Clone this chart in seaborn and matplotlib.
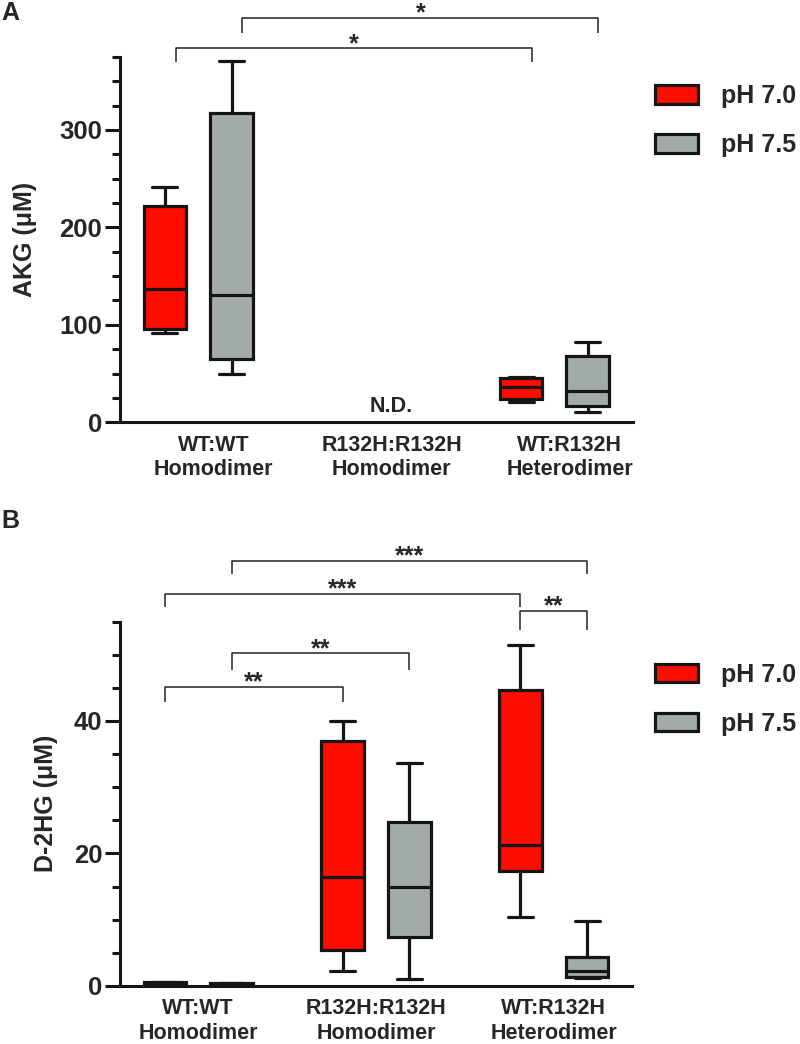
import pandas as pd
import seaborn as sns
import matplotlib.pyplot as plt
from matplotlib.patches import Patch
from matplotlib.ticker import MultipleLocator

# categories and hue levels
dimers = ["WT:WT\nHomodimer", "R132H:R132H\nHomodimer", "WT:R132H\nHeterodimer"]
ph_levels = ["pH 7.0", "pH 7.5"]
colors = ["#ff0d00", "#a2abaa"]

# five-number summaries (min, q1, median, q3, max)
akg_wt_70 = [92, 95.5, 137, 222, 241]
akg_wt_75 = [49.5, 64.5, 131, 317, 371]
akg_het_70 = [21, 23.5, 36, 45.5, 46]
akg_het_75 = [11, 17, 32.5, 68, 82.5]

hg_wt_70 = [0.1, 0.25, 0.4, 0.55, 0.65]
hg_wt_75 = [0.1, 0.2, 0.3, 0.45, 0.5]
hg_mut_70 = [2.3, 5.4, 16.5, 37.0, 40.0]
hg_mut_75 = [1.05, 7.4, 15.0, 24.8, 33.7]
hg_het_70 = [10.4, 17.3, 21.3, 44.7, 51.4]
hg_het_75 = [1.15, 1.4, 2.2, 4.4, 9.85]

# significance brackets: (group1, hue1, group2, hue2, y, leg, label)
akg_sig = [(0, 0, 2, 0, 384, 14.5, "*"),
           (0, 1, 2, 1, 415, 15, "*")]
hg_sig = [(0, 0, 1, 0, 45.2, 2.4, "**"),
          (0, 1, 1, 1, 50.2, 2.5, "**"),
          (0, 0, 2, 0, 59.2, 2.0, "***"),
          (0, 1, 2, 1, 64.2, 2.0, "***"),
          (2, 0, 2, 1, 56.6, 2.8, "**")]

WIDTH = 0.75
EDGE = "#151515"
LW = 2.3


def to_long(rows):
    recs = []
    for dimer, ph, vals in rows:
        for v in vals:
            recs.append({"Dimer": dimer, "pH": ph, "Value": v})
    return pd.DataFrame(recs)


def pos(g, h, shift=0.0):
    return g + (h - 0.5) * WIDTH / 2 + shift


def draw_panel(ax, df, ylabel, label_x, sig, ymax, major, minor, shift, legend_y):
    sns.boxplot(data=df, x="Dimer", y="Value", hue="pH", order=dimers,
                hue_order=ph_levels, palette=colors, saturation=1,
                width=WIDTH, gap=0.36, whis=(0, 100), linewidth=LW,
                linecolor=EDGE, dodge=True, legend=False, ax=ax)
    # widen whisker caps a bit
    for ln in ax.lines:
        x = ln.get_xdata()
        y = ln.get_ydata()
        if len(x) == 2 and y[0] == y[1] and abs(x[1] - x[0]) < 0.2:
            c = (x[0] + x[1]) / 2
            ln.set_xdata([c - 0.07, c + 0.07])
    for g1, h1, g2, h2, y, leg, lab in sig:
        x1 = pos(g1, h1, shift * 0.7)
        x2 = pos(g2, h2, shift * 0.7)
        ax.plot([x1, x1, x2, x2], [y - leg, y, y, y - leg], color="#222222",
                lw=1.1, clip_on=False, solid_capstyle="butt")
        ax.annotate(lab, xy=((x1 + x2) / 2, y), xytext=(0, -2),
                    textcoords="offset points", ha="center", va="baseline",
                    fontsize=18, fontweight="bold", annotation_clip=False)
    ax.set_xlim(-0.44, 2.44)
    ax.set_ylim(0, ymax)
    ax.yaxis.set_major_locator(MultipleLocator(major))
    ax.yaxis.set_minor_locator(MultipleLocator(minor))
    ax.set_xticks([i + shift for i in range(3)], dimers)
    ax.tick_params(axis="y", which="major", length=10.8, width=2.2,
                   labelsize=18.5, pad=2, color=EDGE)
    ax.tick_params(axis="y", which="minor", length=5.8, width=2.2, color=EDGE)
    ax.tick_params(axis="x", length=0, pad=9, labelsize=15.5)
    ax.set_xlabel("")
    ax.set_ylabel(ylabel, fontsize=18)
    ax.yaxis.set_label_coords(label_x, 0.5)
    sns.despine(ax=ax)
    for s in ["left", "bottom"]:
        ax.spines[s].set_linewidth(2.2)
        ax.spines[s].set_color(EDGE)
    handles = [Patch(facecolor=c, edgecolor=EDGE, linewidth=LW, label=l)
               for c, l in zip(colors, ph_levels)]
    ax.legend(handles=handles, loc="upper left", bbox_to_anchor=(0.819, legend_y),
              bbox_transform=ax.figure.transFigure, frameon=False, fontsize=18,
              handlelength=1.72, handleheight=0.76, handletextpad=0.9,
              labelspacing=1.0, borderpad=0, borderaxespad=0)


sns.set_style("ticks")
plt.rcParams["font.family"] = ["Liberation Sans", "DejaVu Sans"]
plt.rcParams["font.weight"] = "bold"
plt.rcParams["axes.labelweight"] = "bold"

akg_df = to_long([(dimers[0], ph_levels[0], akg_wt_70),
                  (dimers[0], ph_levels[1], akg_wt_75),
                  (dimers[2], ph_levels[0], akg_het_70),
                  (dimers[2], ph_levels[1], akg_het_75)])
hg_df = to_long([(dimers[0], ph_levels[0], hg_wt_70),
                 (dimers[0], ph_levels[1], hg_wt_75),
                 (dimers[1], ph_levels[0], hg_mut_70),
                 (dimers[1], ph_levels[1], hg_mut_75),
                 (dimers[2], ph_levels[0], hg_het_70),
                 (dimers[2], ph_levels[1], hg_het_75)])

fig = plt.figure(figsize=(8, 10.44), dpi=100)
axA = fig.add_axes([0.15, 0.5955, 0.641, 0.35])
axB = fig.add_axes([0.15, 0.0556, 0.64, 0.349])

draw_panel(axA, akg_df, "AKG (μM)", -0.162, akg_sig, 375, 100, 25, 0.085, 0.9195)
axA.text(1.085, 10.5, "N.D.", ha="center", va="baseline", fontsize=15.5,
         fontweight="bold")
draw_panel(axB, hg_df, "D-2HG (μM)", -0.121, hg_sig, 55, 20, 5, 0.0, 0.3654)

fig.text(0.002, 0.999, "A", fontsize=18, fontweight="bold", va="top")
fig.text(0.002, 0.5125, "B", fontsize=18, fontweight="bold", va="top")

plt.savefig("out.png", dpi=100)
plt.close()
